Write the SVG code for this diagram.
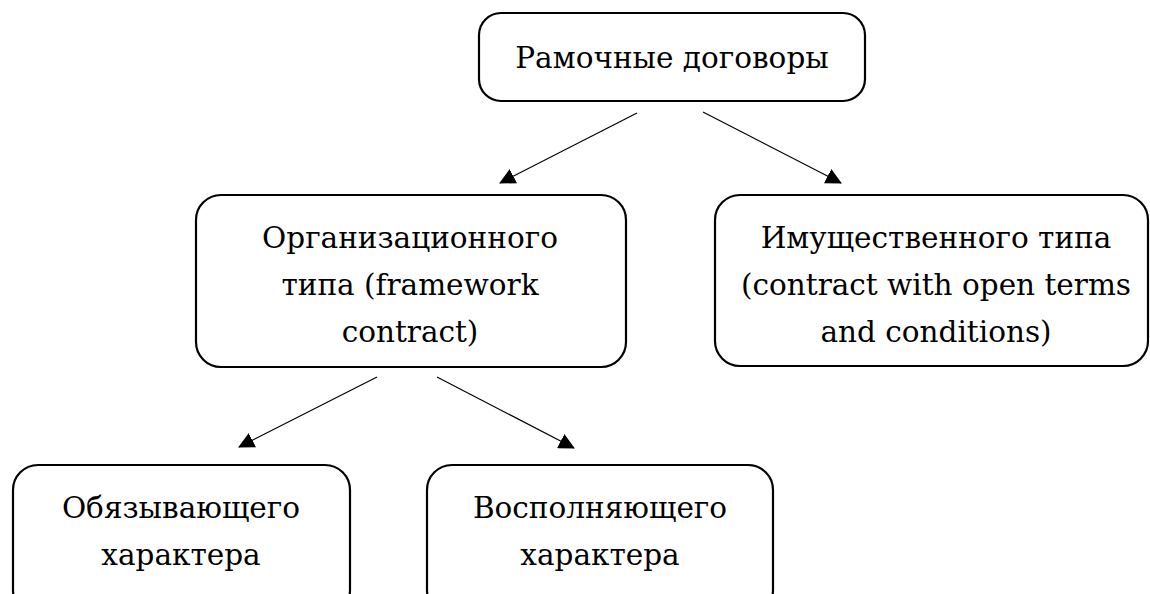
<svg xmlns="http://www.w3.org/2000/svg" width="1150" height="594" viewBox="0 0 1150 594">
<defs>
<style>
.box{fill:#fff;stroke:#000;stroke-width:2.2}
.t{font-family:'DejaVu Serif',serif;font-size:29.5px;fill:#000;text-anchor:middle}
.c{stroke:#000;stroke-width:1.2;fill:none}
</style>
<marker id="ah" viewBox="0 0 16 16" refX="15" refY="8" markerWidth="16" markerHeight="16" markerUnits="userSpaceOnUse" orient="auto">
<path d="M0,0 L16,8 L0,16 Z" fill="#000"/>
</marker>
</defs>
<rect width="1150" height="594" fill="#fff"/>
<g id="connectors">
<line class="c" x1="637" y1="113" x2="500" y2="183" marker-end="url(#ah)"/>
<line class="c" x1="703" y1="112" x2="841" y2="183" marker-end="url(#ah)"/>
<line class="c" x1="377" y1="377" x2="239" y2="447" marker-end="url(#ah)"/>
<line class="c" x1="437" y1="377" x2="574" y2="448" marker-end="url(#ah)"/>
</g>
<g id="root">
<rect class="box" x="479" y="13" width="386" height="88" rx="22"/>
<text class="t" x="672" y="68">Рамочные договоры</text>
</g>
<g id="org">
<rect class="box" x="196" y="195" width="430" height="172" rx="25"/>
<text class="t" x="410" y="248">Организационного</text>
<text class="t" x="410" y="295">типа (framework</text>
<text class="t" x="410" y="342">contract)</text>
</g>
<g id="prop">
<rect class="box" x="715" y="195" width="433" height="171" rx="25"/>
<text class="t" x="936" y="248">Имущественного типа</text>
<text class="t" x="936" y="295">(contract with open terms</text>
<text class="t" x="936" y="342">and conditions)</text>
</g>
<g id="binding">
<rect class="box" x="13" y="465" width="337" height="150" rx="25"/>
<text class="t" x="181" y="518">Обязывающего</text>
<text class="t" x="181" y="565">характера</text>
</g>
<g id="filling">
<rect class="box" x="427" y="465" width="346" height="150" rx="25"/>
<text class="t" x="600" y="518">Восполняющего</text>
<text class="t" x="600" y="565">характера</text>
</g>
</svg>
